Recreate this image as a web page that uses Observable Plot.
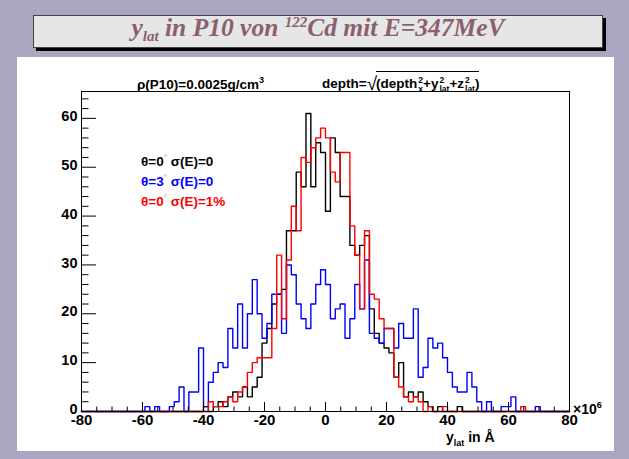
<!DOCTYPE html>
<html><head><meta charset="utf-8">
<script src="https://cdn.jsdelivr.net/npm/d3@7"></script>
<script src="https://cdn.jsdelivr.net/npm/@observablehq/plot@0.6"></script>
<style>
html,body{margin:0;padding:0;background:#a9a6c1;}
#c{position:relative;width:629px;height:459px;overflow:hidden;background:#a9a6c1;font-family:"Liberation Sans",Arial,sans-serif;}
#pad{position:absolute;left:17px;top:57px;width:597px;height:394px;background:#fff;}
#tbox{position:absolute;left:33px;top:15px;width:568px;height:31px;background:#e6e6e6;border:1px solid #444;box-shadow:3px 3px 0 #000;}
#title{position:absolute;left:33px;width:570px;top:13px;text-align:center;font-family:"Liberation Serif","Times New Roman",serif;font-style:italic;font-weight:bold;font-size:25.5px;color:#8b5f6f;white-space:nowrap;}
#title sub{font-size:15px;vertical-align:-5px;}
#title sup{font-size:15px;vertical-align:9px;}
#plot{position:absolute;left:0;top:0;}
.t{position:absolute;font-weight:bold;white-space:nowrap;font-size:13.5px;line-height:15px;z-index:2;}
.ss{display:inline-flex;flex-direction:column;vertical-align:5px;font-size:8.5px;line-height:9px;margin-left:1px;}
.rad{font-size:19px;font-weight:normal;vertical-align:-2px;}
.ol{display:inline-block;border-top:1.5px solid #000;padding-top:4px;margin-left:-1px;}
.deg{font-size:8px;vertical-align:6px;color:#888;font-weight:normal;}
.sub{font-size:9px;vertical-align:-4px;}
.sup{font-size:9px;vertical-align:6px;}
</style>
</head><body>
<div id="c">
  <div id="pad"></div>
  <div id="tbox"></div>
  <div id="title">y<sub>lat</sub> in P10 von <sup>122</sup>Cd mit E=347MeV</div>
  <div id="plot"></div>
  <div class="t" style="left:137px;top:73px">ρ(P10)=0.0025g/cm<span class="sup">3</span></div>
  <div class="t" style="left:322px;top:71px">depth=<span class="rad">√</span><span class="ol">(depth<span class="ss"><span>2</span><span>x</span></span>+y<span class="ss"><span>2</span><span>lat</span></span>+z<span class="ss"><span>2</span><span>lat</span></span>)</span></div>
  <div class="t" style="left:141px;top:150px;color:#000">θ=0<span class="deg">°</span> σ(E)=0</div>
  <div class="t" style="left:141px;top:170px;color:#0000ff">θ=3<span class="deg">°</span> σ(E)=0</div>
  <div class="t" style="left:141px;top:190px;color:#ff0000">θ=0<span class="deg">°</span> σ(E)=1%</div>
  <div class="t" style="left:446px;top:430px;font-size:14px">y<span class="sub">lat</span> in Å</div>
  <div class="t" style="left:573px;top:398px;font-size:14px;font-weight:normal"><b>×10</b><span class="sup" style="font-weight:bold">6</span></div>
</div>
<script>
// histogram binning: 100 bins from -80 to 80
const binStart = -80, binWidth = 1.6;
// θ=0° σ(E)=0 (black)
const black = [
  0,0,0,0,0,0,0,0,0,0,0,0,0,0,0,0,0,0,0,0,0,0,0,0,0,
  1,0,1,2,1,3,4,3,5,3,5,7,14,17,22,24,25,37,37,49,46,61,46,55,53,
  41,56,53,44,44,34,32,34,36,21,16,14,13,12,7,10,3,4,3,4,2,1,0,1,0,0,0,1,
  0,0,0,0,0,0,0,0,0,0,0,0,0,0,0,0,0,0,0,0,0,0
];
// θ=3° σ(E)=0 (blue)
const blue = [
  0,0,0,0,0,0,0,0,0,0,0,0,0,
  1,0,1,0,0,1,2,5,0,4,4,13,1,6,8,10,9,17,13,22,13,20,27,20,15,18,24,24,16,30,28,22,19,17,22,26,29,
  26,19,21,22,15,19,26,21,31,16,15,14,17,17,13,18,15,15,21,7,9,15,13,14,11,8,5,4,4,8,5,2,0,2,0,0,1,1,3,0,0,0,0,1,
  0,0,0,0,0,0
];
// θ=0° σ(E)=1% (red)
const red = [
  0,0,0,0,0,0,0,0,0,0,0,0,0,0,0,0,0,0,0,0,0,0,0,0,0,0,
  2,1,1,2,3,2,4,5,8,10,11,11,11,17,32,19,31,42,37,52,51,54,56,58,
  56,49,47,53,53,38,32,21,37,24,23,19,17,17,7,5,3,2,3,2,0,1,0,0,1,0,0,0,0,0,0,0,0,0,0,0,0,0,0,0,1,
  0,0,0,0,0,0,0,0,0
];
const xMajor = [-80,-60,-40,-20,0,20,40,60,80];
const xMinor = [-75,-70,-65,-55,-50,-45,-35,-30,-25,-15,-10,-5,5,10,15,25,30,35,45,50,55,65,70,75];
const yMajor = [0,10,20,30,40,50,60];
const yMinor = [2,4,6,8,12,14,16,18,22,24,26,28,32,34,36,38,42,44,46,48,52,54,56,58,62,64];
const yMax = 65.5;

function steps(vals) {
  const pts = vals.map((v, i) => ({x: binStart + binWidth * i, y: v}));
  pts.push({x: binStart + binWidth * vals.length, y: vals[vals.length - 1]});
  return pts;
}

const W = 629, H = 459, mL = 81, mR = 60, mT = 91, mB = 48;
const fw = W - mL - mR, fh = H - mT - mB;
const font = "Liberation Sans, Arial, sans-serif";

const chart = Plot.plot({
  width: W, height: H,
  marginLeft: mL, marginRight: mR, marginTop: mT, marginBottom: mB,
  x: {domain: [-80, 80], axis: null},
  y: {domain: [0, yMax], axis: null},
  style: {background: "transparent", overflow: "visible"},
  marks: [
    Plot.line(steps(black), {x: "x", y: "y", curve: "step-after", stroke: "#000000", strokeWidth: 1.4}),
    Plot.line(steps(blue), {x: "x", y: "y", curve: "step-after", stroke: "#0000ff", strokeWidth: 1.4}),
    Plot.line(steps(red), {x: "x", y: "y", curve: "step-after", stroke: "#ff0000", strokeWidth: 1.4}),
    Plot.tickY(yMajor, {y: d => d, insetRight: fw - 15, stroke: "#000"}),
    Plot.tickY(yMinor, {y: d => d, insetRight: fw - 7.5, stroke: "#000"}),
    Plot.tickX(xMajor, {x: d => d, insetTop: fh - 9, stroke: "#000"}),
    Plot.tickX(xMinor, {x: d => d, insetTop: fh - 4.5, stroke: "#000"}),
    Plot.text(yMajor, {y: d => d, text: d => String(d), frameAnchor: "left", textAnchor: "end", dx: -4, dy: -2, fontSize: 14.5, fontWeight: "bold", fontFamily: font, fill: "#000"}),
    Plot.text(xMajor, {x: d => d, text: d => String(d), frameAnchor: "bottom", lineAnchor: "top", dy: 3, fontSize: 15, fontWeight: "bold", fontFamily: font, fill: "#000"}),
    Plot.frame({stroke: "#000", strokeWidth: 1})
  ]
});
document.getElementById("plot").appendChild(chart);
</script>
</body></html>
